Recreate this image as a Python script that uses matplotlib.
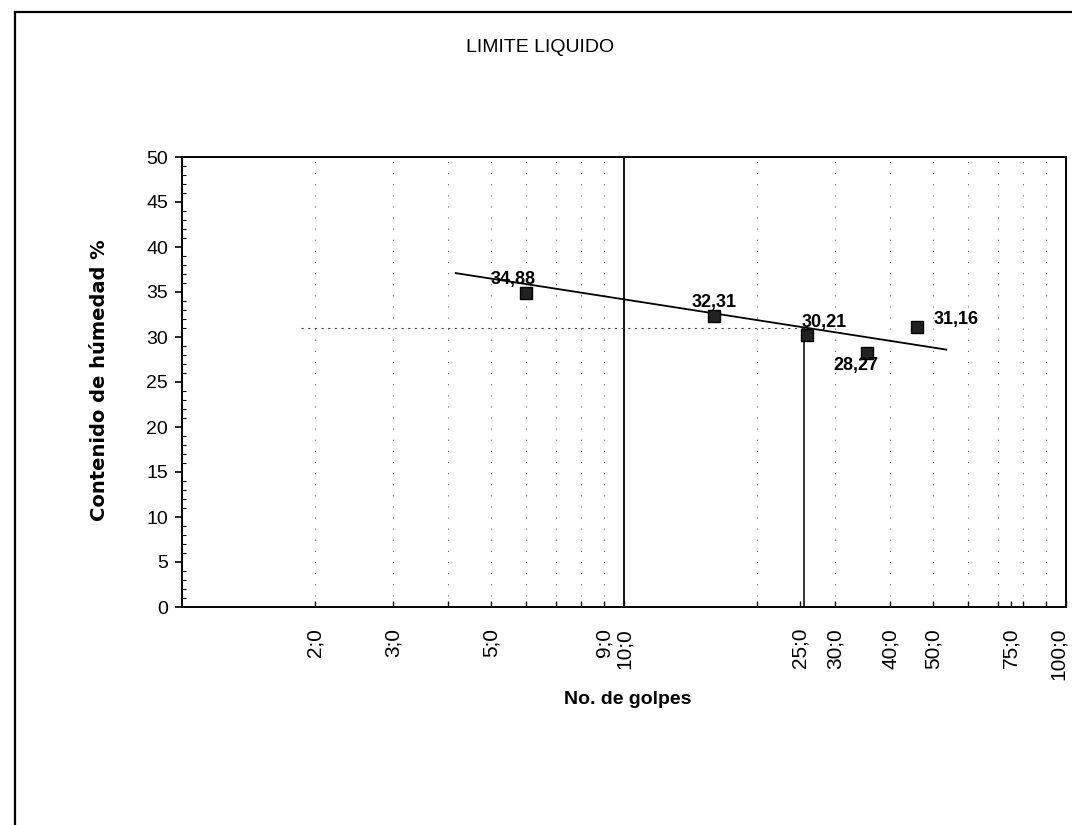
import matplotlib
matplotlib.use("Agg")
import matplotlib.pyplot as plt
import matplotlib.ticker as mticker
import matplotlib.transforms as mtransforms
import numpy as np
from matplotlib.lines import Line2D

# Data
golpes = [6, 16, 26, 35.5, 46]
humedad = [34.88, 32.31, 30.21, 28.27, 31.16]
etiquetas = ["34,88", "32,31", "30,21", "28,27", "31,16"]
trend_x = [4.16, 53.6]
trend_y = [37.1, 28.6]
x_ticks = [2, 3, 5, 9, 10, 25, 30, 40, 50, 75, 100]
x_ticklabels = ["2;0", "3;0", "5;0", "9;0", "10;0", "25;0", "30;0", "40;0", "50;0", "75;0", "100;0"]
grid_x = [2, 3, 4, 5, 6, 7, 8, 9, 20, 30, 40, 50, 60, 70, 80, 90]
y_ticks = [0, 5, 10, 15, 20, 25, 30, 35, 40, 45, 50]
ll_golpes = 25.5
ll_value = 31
ll_start = 1.86

narrow = ['Liberation Sans Narrow', 'Liberation Sans', 'DejaVu Sans']

fig = plt.figure(figsize=(10.72, 8.25), dpi=100)
fig.patch.set_facecolor('white')

# outer document frame
fig.add_artist(Line2D([15/1072, 1.0], [1-12/825, 1-12/825], color='black', lw=1.6, transform=fig.transFigure))
fig.add_artist(Line2D([15/1072, 15/1072], [0, 1-12/825], color='black', lw=1.6, transform=fig.transFigure))

ax = fig.add_axes([182/1072, 1-607/825, (1066-182)/1072, (607-157)/825])
ax.set_xscale('log')
ax.set_xlim(1, 100)
ax.set_ylim(0, 50)

for s in ax.spines.values():
    s.set_linewidth(1.4)
    s.set_color('black')

# sparse dotted vertical gridlines
for xv in grid_x:
    ax.axvline(xv, color='#666666', lw=0.8, linestyle=(0, (1, 9)), zorder=1)

# reference lines
ax.axvline(10, color='black', lw=1.3, zorder=2)
ax.plot([ll_golpes, ll_golpes], [0, ll_value], color='black', lw=1.1, zorder=2)
ax.plot([ll_start, ll_golpes], [ll_value, ll_value], color='#444444', lw=0.8,
        linestyle=(0, (2, 4)), zorder=2)

# trend line
ax.plot(trend_x, trend_y, color='black', lw=1.3, zorder=3)

# points
ax.scatter(golpes, humedad, marker='s', s=75, color='#222222', edgecolor='black', zorder=4)

offsets = [(-9, 10), (0, 10), (12, 9), (-8, -9), (28, 5)]
for x, y, lab, (dx, dy) in zip(golpes, humedad, etiquetas, offsets):
    ax.annotate(lab, (x, y), xytext=(dx, dy), textcoords='offset points',
                ha='center', va='center', fontsize=13, fontweight='bold',
                family=narrow, zorder=5)

ax.set_xticks(x_ticks)
ax.set_xticklabels(x_ticklabels, rotation=90, fontsize=15, family=narrow)
ax.xaxis.set_minor_locator(mticker.LogLocator(base=10, subs=np.arange(2, 10)))
ax.xaxis.set_minor_formatter(mticker.NullFormatter())
ax.set_yticks(y_ticks)
ax.set_yticklabels([str(v) for v in y_ticks], fontsize=14, family=narrow)
ax.set_yticks(np.arange(0, 51, 1), minor=True)
ax.tick_params(axis='y', which='major', direction='out', length=5, width=1.2, pad=5)
ax.tick_params(axis='y', which='minor', direction='in', length=3, width=0.8)
ax.tick_params(axis='x', which='major', direction='in', length=4, width=1.0, pad=15)
ax.tick_params(axis='x', which='minor', direction='in', length=4, width=1.0)

# keep the last tick label inside the figure
last = ax.get_xticklabels()[-1]
last.set_transform(last.get_transform() + mtransforms.ScaledTranslation(-8/100, 0, fig.dpi_scale_trans))

fig.text(628/1072, 1-700/825, "No. de golpes", ha='center', va='center',
         fontsize=14, fontweight='bold', family=narrow)
fig.text(100/1072, 1-380/825, "Contenido de húmedad %", ha='center', va='center',
         rotation=90, fontsize=14, fontweight='bold', family=['DejaVu Sans'])

fig.text(540/1072, 1-48/825, "LIMITE LIQUIDO", ha='center', va='center', fontsize=14, family=narrow)

fig.savefig("out.png", dpi=100, facecolor='white')
